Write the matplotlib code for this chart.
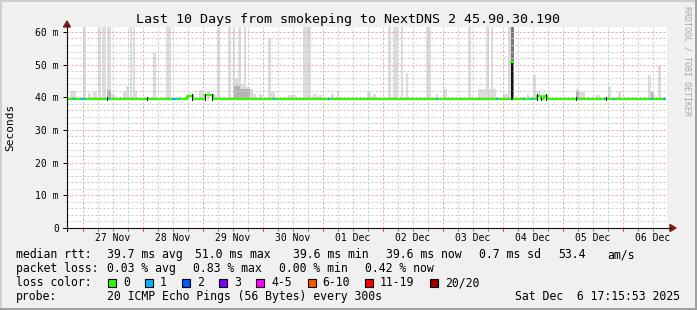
import datetime as dt
import numpy as np
import matplotlib
matplotlib.use("Agg")
import matplotlib.pyplot as plt
from matplotlib.patches import Rectangle, Polygon
from matplotlib.lines import Line2D

W, H, DPI = 697, 310, 100

# ---------------- data ----------------
title = "Last 10 Days from smokeping to NextDNS 2 45.90.30.190"
start = dt.datetime(2025, 11, 26, 17, 43)
span_hours = 240
y_max = 61.5
y_ticks = [0, 10, 20, 30, 40, 50, 60]
y_tick_labels = ["0", "10 m", "20 m", "30 m", "40 m", "50 m", "60 m"]

median_base = 39.6
smoke_bottom = 39.2

# smoke bars that go beyond the top of the graph (hours since start)
tall_start = [6.3, 12.2, 14.0, 16.1, 25.0, 26.2, 39.6, 60.0, 64.4, 66.3, 68.4, 70.7,
              94.4, 96.1, 128.4, 130.4, 131.6, 133.6, 143.6, 160.4, 167.6, 169.6, 176.4]
tall_end = [7.6, 13.5, 15.6, 17.6, 26.0, 27.0, 41.6, 61.2, 65.7, 67.1, 69.5, 71.7,
            96.0, 97.6, 129.6, 131.5, 132.4, 134.4, 145.6, 161.6, 168.8, 170.4, 177.6]

# smaller smoke bars (hours since start, top in ms)
mid_start = [1.2, 8.4, 10.4, 17.6, 22.3, 23.6, 27.0, 34.3, 48.0, 52.8, 56.0, 58.4,
             67.2, 69.5, 71.7, 73.2, 74.4, 76.8, 80.4, 81.6, 88.4, 90.0, 98.4, 100.4,
             105.6, 108.0, 120.0, 122.4, 135.6, 147.6, 150.4, 164.4, 165.6, 168.8,
             174.4, 184.0, 186.3, 188.0, 189.6, 203.6, 204.7, 211.6, 216.3, 220.4,
             232.4, 233.6, 236.3]
mid_end = [3.6, 9.6, 12.0, 19.2, 23.6, 24.8, 28.0, 35.6, 49.2, 54.4, 57.2, 59.6,
           68.4, 70.7, 73.2, 74.4, 75.6, 78.0, 81.5, 83.2, 90.0, 91.6, 100.0, 102.0,
           106.8, 108.8, 121.6, 123.6, 136.4, 148.4, 152.0, 165.6, 167.6, 171.6,
           176.4, 184.8, 187.6, 189.2, 190.8, 204.7, 207.2, 213.2, 217.6, 221.6,
           233.5, 235.2, 237.6]
mid_top = [42.0, 41.3, 41.7, 41.1, 42.0, 43.6, 42.0, 53.6, 40.8, 42.2, 42.0, 40.8,
           45.9, 44.0, 43.0, 42.5, 41.0, 41.0, 58.0, 41.5, 40.8, 40.8, 41.0, 40.8,
           41.0, 42.0, 41.7, 41.0, 47.4, 41.0, 42.5, 42.5, 42.5, 42.5,
           41.0, 41.0, 46.7, 42.0, 41.0, 42.4, 41.5, 40.8, 43.5, 41.5,
           46.7, 41.0, 49.5]

# darker smoke close to the median
dark_start = [16.1, 66.8, 69.0, 203.6, 233.6]
dark_end = [17.6, 69.0, 73.0, 204.7, 234.4]
dark_top = [42.2, 43.5, 42.5, 42.0, 41.5]

# worst interval (dark smoke to the top, median spike)
spike_start, spike_end, spike_median = 177.6, 178.6, 50.8

# median level changes
bump_start = [47.9, 55.2, 188.0, 190.8]
bump_end = [50.3, 58.4, 189.6, 192.0]
bump_value = [40.5, 40.7, 40.5, 40.5]

# intervals with 1 of 20 pings lost
loss1_start = [2.4, 5.6, 16.4, 42.0, 44.4, 82.4, 104.4, 147.6, 171.6, 182.4, 185.6,
               203.6, 214.8, 218.4, 233.6, 238.4]
loss1_end = [3.2, 7.2, 17.2, 43.6, 45.2, 83.2, 105.2, 148.2, 172.4, 183.2, 186.4,
             204.4, 216.0, 219.2, 234.4, 239.6]

black_marks = [16.0, 31.9, 49.9, 55.2, 58.1, 188.0, 189.6, 191.6, 203.6, 215.6]

stats_rtt = ["39.7 ms avg", "51.0 ms max", "39.6 ms min", "39.6 ms now", "0.7 ms sd",
             "53.4", "am/s"]
stats_loss = ["0.03 % avg", "0.83 % max", "0.00 % min", "0.42 % now"]
loss_labels = ["0", "1", "2", "3", "4-5", "6-10", "11-19", "20/20"]
loss_colors = ["#26ff00", "#00b8ff", "#0059ff", "#7e00ff", "#ff00ff", "#ff5500",
               "#ff0000", "#a00000"]
probe_text = "20 ICMP Echo Pings (56 Bytes) every 300s"
stamp_text = "Sat Dec  6 17:15:53 2025"

# ---------------- drawing ----------------
MONO = "DejaVu Sans Mono"
plt.rcParams["font.family"] = MONO

fig = plt.figure(figsize=(W / DPI, H / DPI), dpi=DPI, facecolor="#f0f0f0")


def fx(x):
    return x / W


def fy(y):
    return 1 - y / H


ax_left, ax_right, ax_top, ax_bottom = 67, 667, 27, 228
ax = fig.add_axes([fx(ax_left), fy(ax_bottom), (ax_right - ax_left) / W,
                   (ax_bottom - ax_top) / H])
ax.set_xlim(0, span_hours)
ax.set_ylim(0, y_max)
ax.set_facecolor("white")
for s in ax.spines.values():
    s.set_visible(False)

# smoke
ax.bar(tall_start, [y_max + 5 - smoke_bottom] * len(tall_start),
       width=np.array(tall_end) - np.array(tall_start), bottom=smoke_bottom,
       align="edge", color="#dcdcdc", linewidth=0, zorder=1)
ax.bar(mid_start, np.array(mid_top) - smoke_bottom,
       width=np.array(mid_end) - np.array(mid_start), bottom=smoke_bottom,
       align="edge", color="#dcdcdc", linewidth=0, zorder=1)
ax.bar(dark_start, np.array(dark_top) - smoke_bottom,
       width=np.array(dark_end) - np.array(dark_start), bottom=smoke_bottom,
       align="edge", color="#b4b4b4", linewidth=0, zorder=1.1)
ax.bar([spike_start], [y_max + 5 - smoke_bottom], width=spike_end - spike_start,
       bottom=smoke_bottom, align="edge", color="#7a7a7a", linewidth=0, zorder=1.1)

# grid
midnight0 = (dt.datetime(2025, 11, 27) - start).total_seconds() / 3600
midnights = [midnight0 + 24 * k for k in range(10)]
sixes = [midnight0 - 24 + 6 * k for k in range(45)]
sixes = [h for h in sixes if 0.8 < h < span_hours and all(abs(h - m) > 1 for m in midnights)]
dots = (0, (2, 2))
for v in range(2, 62, 2):
    if v % 10:
        ax.axhline(v, color="#c8c8c8", lw=0.72, ls=dots, zorder=2)
for h in sixes:
    ax.axvline(h, color="#c8c8c8", lw=0.72, ls=dots, zorder=2)
for v in range(10, 61, 10):
    ax.axhline(v, color="#f0a0a0", lw=0.72, ls=dots, zorder=2.1)
for h in midnights:
    ax.axvline(h, color="#f0a0a0", lw=0.72, ls=dots, zorder=2.1)

# median line
t_pts, v_pts = [0], [median_base]
for b0, b1, bv in sorted(zip(bump_start, bump_end, bump_value)):
    t_pts += [b0, b0, b1, b1]
    v_pts += [median_base, bv, bv, median_base]
t_pts.append(span_hours - 0.4)
v_pts.append(median_base)
ax.plot(t_pts, v_pts, color=loss_colors[0], lw=1.5, solid_capstyle="butt", zorder=3)


def med_at(h):
    for b0, b1, bv in zip(bump_start, bump_end, bump_value):
        if b0 <= h < b1:
            return bv
    return median_base


for l0, l1 in zip(loss1_start, loss1_end):
    m = med_at((l0 + l1) / 2)
    ax.plot([l0, l1], [m, m], color=loss_colors[1], lw=1.5, solid_capstyle="butt", zorder=3.1)

for h in black_marks:
    ax.plot([h, h], [median_base - 0.3, med_at(h) + 0.4], color="black", lw=0.7, zorder=3.2)

sm = (spike_start + spike_end) / 2
ax.plot([sm, sm], [median_base, spike_median], color="black", lw=1.2, zorder=3.2)
ax.plot([spike_start + 0.2, spike_end - 0.2], [spike_median, spike_median],
        color=loss_colors[0], lw=1.5, zorder=3.3)

# ticks
ax.set_yticks(y_ticks, y_tick_labels)
ax.tick_params(axis="y", length=2.9, width=0.72, color="black", pad=2.9, labelsize=7)
noons = [m + 12 for m in midnights]
labels = [(start + dt.timedelta(hours=h)).strftime("%d %b") for h in noons]
ax.set_xticks(noons, labels)
ax.tick_params(axis="x", length=0, pad=3.6, labelsize=7)
for h in midnights:
    ax.plot([h, h], [0, -0.9], color="#e05050", lw=0.72, clip_on=False, zorder=4)
for h in sixes:
    ax.plot([h, h], [0, -0.9], color="#909090", lw=0.72, clip_on=False, zorder=4)

# axes lines with arrows
fig.add_artist(Line2D([fx(63), fx(671)], [fy(228), fy(228)], color="#101010", lw=0.8))
fig.add_artist(Line2D([fx(67), fx(67)], [fy(231), fy(25)], color="#101010", lw=0.8))
arrow_c = "#7f1f1f"
fig.add_artist(Polygon([[fx(670), fy(224.5)], [fx(676), fy(228)], [fx(670), fy(231.5)]],
                       closed=True, color=arrow_c, transform=fig.transFigure))
fig.add_artist(Polygon([[fx(63.5), fy(27)], [fx(67), fy(21)], [fx(70.5), fy(27)]],
                       closed=True, color=arrow_c, transform=fig.transFigure))

# texts
fig.text(fx(348), fy(19), title, ha="center", va="center", fontsize=9.6, color="black")
fig.text(fx(10), fy(127), "Seconds", ha="center", va="center", rotation=90, fontsize=8)
fig.text(fx(687), fy(61), "RRDTOOL / TOBI OETIKER", ha="center", va="center",
         rotation=270, fontsize=6, color="#a8a8a8")

LF = 8.3
B = "baseline"
rows = [258.3, 272.3, 286.3, 300.3]
fig.text(fx(16), fy(rows[0]), "median rtt:", va=B, fontsize=LF)
for x, s in zip([107, 195, 293, 386, 479, 558, 607], stats_rtt):
    fig.text(fx(x), fy(rows[0]), s, va=B, fontsize=LF)
fig.text(fx(16), fy(rows[1]), "packet loss:", va=B, fontsize=LF)
for x, s in zip([107, 193, 279, 365], stats_loss):
    fig.text(fx(x), fy(rows[1]), s, va=B, fontsize=LF)
fig.text(fx(16), fy(rows[2]), "loss color:", va=B, fontsize=LF)
for bx, lx, lab, c in zip([108, 145, 182, 219, 256, 308, 365, 430],
                          [123, 160, 197, 234, 271, 322, 380, 445], loss_labels, loss_colors):
    fig.add_artist(Rectangle((fx(bx), fy(286.5)), 8 / W, 8 / H, facecolor=c,
                             edgecolor="black", lw=0.8, transform=fig.transFigure))
    fig.text(fx(lx), fy(rows[2]), lab, va=B, fontsize=LF)
fig.text(fx(16), fy(rows[3]), "probe:", va=B, fontsize=LF)
fig.text(fx(107), fy(rows[3]), probe_text, va=B, fontsize=LF)
fig.text(fx(680), fy(rows[3]), stamp_text, va=B, ha="right", fontsize=LF)

# 3D frame
fig.add_artist(Line2D([0, 1], [fy(0.5), fy(0.5)], color="#cfcfcf", lw=1.4))
fig.add_artist(Line2D([fx(0.5), fx(0.5)], [0, 1], color="#cfcfcf", lw=1.4))
fig.add_artist(Line2D([0, 1], [fy(309), fy(309)], color="#9e9e9e", lw=1.4))
fig.add_artist(Line2D([fx(696), fx(696)], [0, 1], color="#9e9e9e", lw=1.4))

fig.savefig("out.png", dpi=DPI, facecolor=fig.get_facecolor())
